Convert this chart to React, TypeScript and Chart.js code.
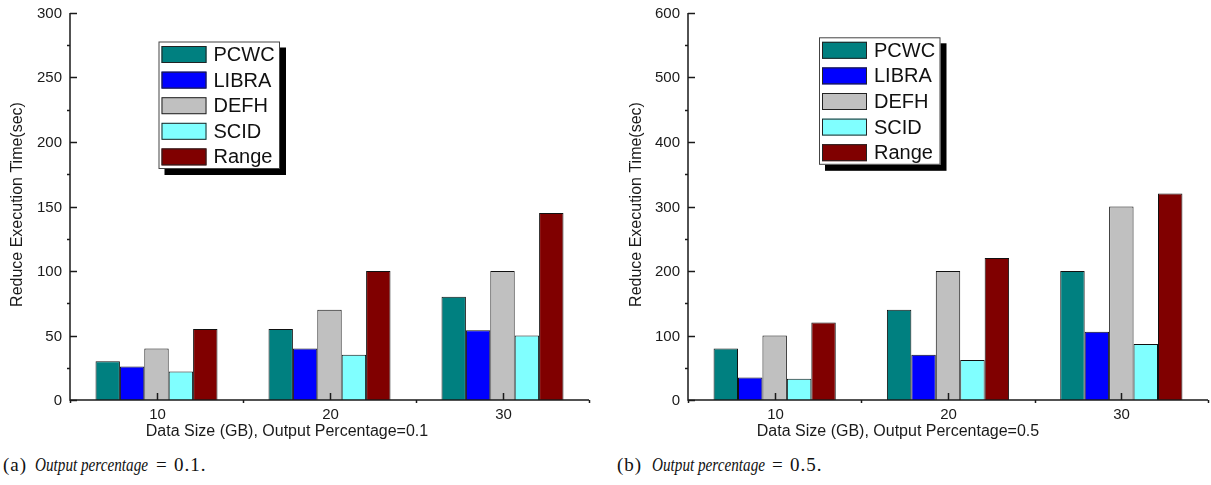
import React, { useEffect, useRef } from "react";
import { Chart, registerables } from "chart.js";

Chart.register(...registerables);

// Data sizes (GB) on the category axis
const categories = ["10", "20", "30"];
const seriesNames = ["PCWC", "LIBRA", "DEFH", "SCID", "Range"];
const seriesColors = ["#008080", "#0000FF", "#C0C0C0", "#80FFFF", "#800000"];

// Reduce execution time (sec), output percentage = 0.1
const pcwcA = [30, 55, 80];
const libraA = [26, 40, 54];
const defhA = [40, 70, 100];
const scidA = [22, 35, 50];
const rangeA = [55, 100, 145];

// Reduce execution time (sec), output percentage = 0.5
const pcwcB = [80, 140, 200];
const libraB = [35, 70, 106];
const defhB = [100, 200, 300];
const scidB = [33, 62, 87];
const rangeB = [120, 220, 320];

const yTicksA = [0, 50, 100, 150, 200, 250, 300];
const yTicksB = [0, 100, 200, 300, 400, 500, 600];

const yTitle = "Reduce Execution Time(sec)";
const xTitleA = "Data Size (GB), Output Percentage=0.1";
const xTitleB = "Data Size (GB), Output Percentage=0.5";

const FONT = '"Liberation Sans", Arial, sans-serif';
const INK = "#1a1a1a";

// Origin-style axes: major ticks pointing inward, minor ticks outward,
// plus a boxed legend with a drop shadow.
const originAxes = {
  id: "originAxes",
  afterDatasetsDraw(chart: any, _args: any, opts: any) {
    const { ctx, chartArea: a } = chart;
    const xs = chart.scales.x;
    const ys = chart.scales.y;
    const ticks: number[] = opts.yTicks;
    ctx.save();
    ctx.strokeStyle = INK;
    ctx.fillStyle = INK;
    ctx.lineWidth = 1.5;

    // axis lines
    ctx.beginPath();
    ctx.moveTo(a.left, a.top);
    ctx.lineTo(a.left, a.bottom);
    ctx.lineTo(a.right, a.bottom);
    ctx.stroke();

    // y ticks
    ctx.font = `15px ${FONT}`;
    ctx.textAlign = "right";
    ctx.textBaseline = "middle";
    ticks.forEach((v, i) => {
      const py = Math.round(ys.getPixelForValue(v)) + 0.5;
      ctx.beginPath();
      ctx.moveTo(a.left, py);
      ctx.lineTo(a.left + 7, py);
      ctx.stroke();
      ctx.fillText(String(v), a.left - 8, py);
      if (i < ticks.length - 1) {
        const mid = (v + ticks[i + 1]) / 2;
        const pm = Math.round(ys.getPixelForValue(mid)) + 0.5;
        ctx.beginPath();
        ctx.moveTo(a.left - 3, pm);
        ctx.lineTo(a.left, pm);
        ctx.stroke();
      }
    });

    // x ticks
    ctx.textAlign = "center";
    const labels: string[] = chart.data.labels;
    labels.forEach((lab, i) => {
      const px = Math.round(xs.getPixelForValue(i)) + 0.5;
      ctx.beginPath();
      ctx.moveTo(px, a.bottom);
      ctx.lineTo(px, a.bottom - 7);
      ctx.stroke();
      ctx.fillText(lab, px, a.bottom + 15);
    });
    for (let i = 0; i <= labels.length; i++) {
      const px = Math.round(xs.getPixelForValue(i - 0.5)) + 0.5;
      ctx.beginPath();
      ctx.moveTo(px, a.bottom);
      ctx.lineTo(px, a.bottom + 3);
      ctx.stroke();
    }

    // axis titles
    ctx.font = `16px ${FONT}`;
    ctx.fillText(opts.xTitle, a.left + opts.xTitleOffset, a.bottom + 32);
    ctx.save();
    ctx.translate(opts.yTitleX, (a.top + a.bottom) / 2 - 2);
    ctx.rotate(-Math.PI / 2);
    ctx.fillText(yTitle, 0, 0);
    ctx.restore();

    // legend
    const lx = opts.legendX;
    const ly = opts.legendY;
    const w = 121.5;
    const h = 127.5;
    ctx.fillStyle = "#000";
    ctx.fillRect(lx + 6, ly + 6, w, h);
    ctx.fillStyle = "#fff";
    ctx.fillRect(lx, ly, w, h);
    ctx.lineWidth = 1;
    ctx.strokeStyle = "#444";
    ctx.strokeRect(lx + 0.5, ly + 0.5, w - 1, h - 1);
    ctx.font = `20px ${FONT}`;
    ctx.textAlign = "left";
    ctx.textBaseline = "middle";
    chart.data.datasets.forEach((ds: any, i: number) => {
      const sy = ly + 4.5 + i * 25.6;
      ctx.fillStyle = ds.backgroundColor;
      ctx.fillRect(lx + 3, sy, 45, 17);
      ctx.strokeStyle = "#222";
      ctx.strokeRect(lx + 3.5, sy + 0.5, 44, 16);
      ctx.fillStyle = "#111";
      ctx.fillText(ds.label, lx + 55, sy + 9.5);
    });
    ctx.restore();
  },
};

type PanelProps = {
  left: number;
  width: number;
  values: number[][];
  yTicks: number[];
  xTitle: string;
  xTitleOffset: number;
  padding: { left: number; right: number; top: number; bottom: number };
  legendX: number;
  legendY: number;
  yTitleX: number;
};

function Panel(p: PanelProps) {
  const ref = useRef<HTMLCanvasElement | null>(null);
  useEffect(() => {
    if (!ref.current) return;
    const chart = new Chart(ref.current, {
      type: "bar",
      data: {
        labels: categories,
        datasets: seriesNames.map((name, i) => ({
          label: name,
          data: p.values[i],
          backgroundColor: seriesColors[i],
          borderColor: "#111",
          borderWidth: 1,
          categoryPercentage: 0.705,
          barPercentage: 1,
        })),
      },
      options: {
        responsive: false,
        animation: false,
        events: [],
        layout: { padding: p.padding },
        scales: {
          x: { type: "category", display: false, offset: true },
          y: { display: false, min: 0, max: p.yTicks[p.yTicks.length - 1] },
        },
        plugins: {
          legend: { display: false },
          tooltip: { enabled: false },
          originAxes: {
            yTicks: p.yTicks,
            xTitle: p.xTitle,
            xTitleOffset: p.xTitleOffset,
            legendX: p.legendX,
            legendY: p.legendY,
            yTitleX: p.yTitleX,
          },
        } as any,
      },
      plugins: [originAxes],
    });
    return () => chart.destroy();
  }, []);
  return (
    <canvas
      ref={ref}
      width={p.width}
      height={450}
      style={{ position: "absolute", left: p.left, top: 0, width: p.width, height: 450 }}
    />
  );
}

const SERIF = '"Liberation Serif", "DejaVu Serif", serif';

type CaptionProps = {
  tag: string;
  value: string;
  x: number[]; // left edges of the tag, italic phrase, "=" and value
};

function Caption({ tag, value, x }: CaptionProps) {
  const base: React.CSSProperties = {
    position: "absolute",
    top: 453,
    fontFamily: SERIF,
    fontSize: 19,
    color: "#111",
    whiteSpace: "nowrap",
    lineHeight: "24px",
  };
  return (
    <>
      <span style={{ ...base, left: x[0], letterSpacing: 1 }}>{tag}</span>
      <span
        style={{
          ...base,
          left: x[1],
          fontStyle: "italic",
          transform: "scaleX(0.8)",
          transformOrigin: "left center",
        }}
      >
        Output percentage
      </span>
      <span style={{ ...base, left: x[2] }}>=</span>
      <span style={{ ...base, left: x[3], letterSpacing: 1 }}>{value}</span>
    </>
  );
}

export default function App() {
  return (
    <div
      style={{
        position: "absolute",
        left: 0,
        top: 0,
        width: 1211,
        height: 485,
        background: "#fff",
        overflow: "hidden",
      }}
    >
      <Panel
        left={0}
        width={605}
        values={[pcwcA, libraA, defhA, scidA, rangeA]}
        yTicks={yTicksA}
        xTitle={xTitleA}
        xTitleOffset={217}
        padding={{ left: 70, right: 16, top: 13, bottom: 50 }}
        legendX={158.5}
        legendY={41.5}
        yTitleX={18}
      />
      <Panel
        left={605}
        width={606}
        values={[pcwcB, libraB, defhB, scidB, rangeB]}
        yTicks={yTicksB}
        xTitle={xTitleB}
        xTitleOffset={210}
        padding={{ left: 83, right: 3, top: 13, bottom: 50 }}
        legendX={214}
        legendY={37.3}
        yTitleX={32}
      />
      <Caption tag="(a)" value="0.1." x={[3, 35, 156, 174]} />
      <Caption tag="(b)" value="0.5." x={[617, 652, 772, 790]} />
    </div>
  );
}
